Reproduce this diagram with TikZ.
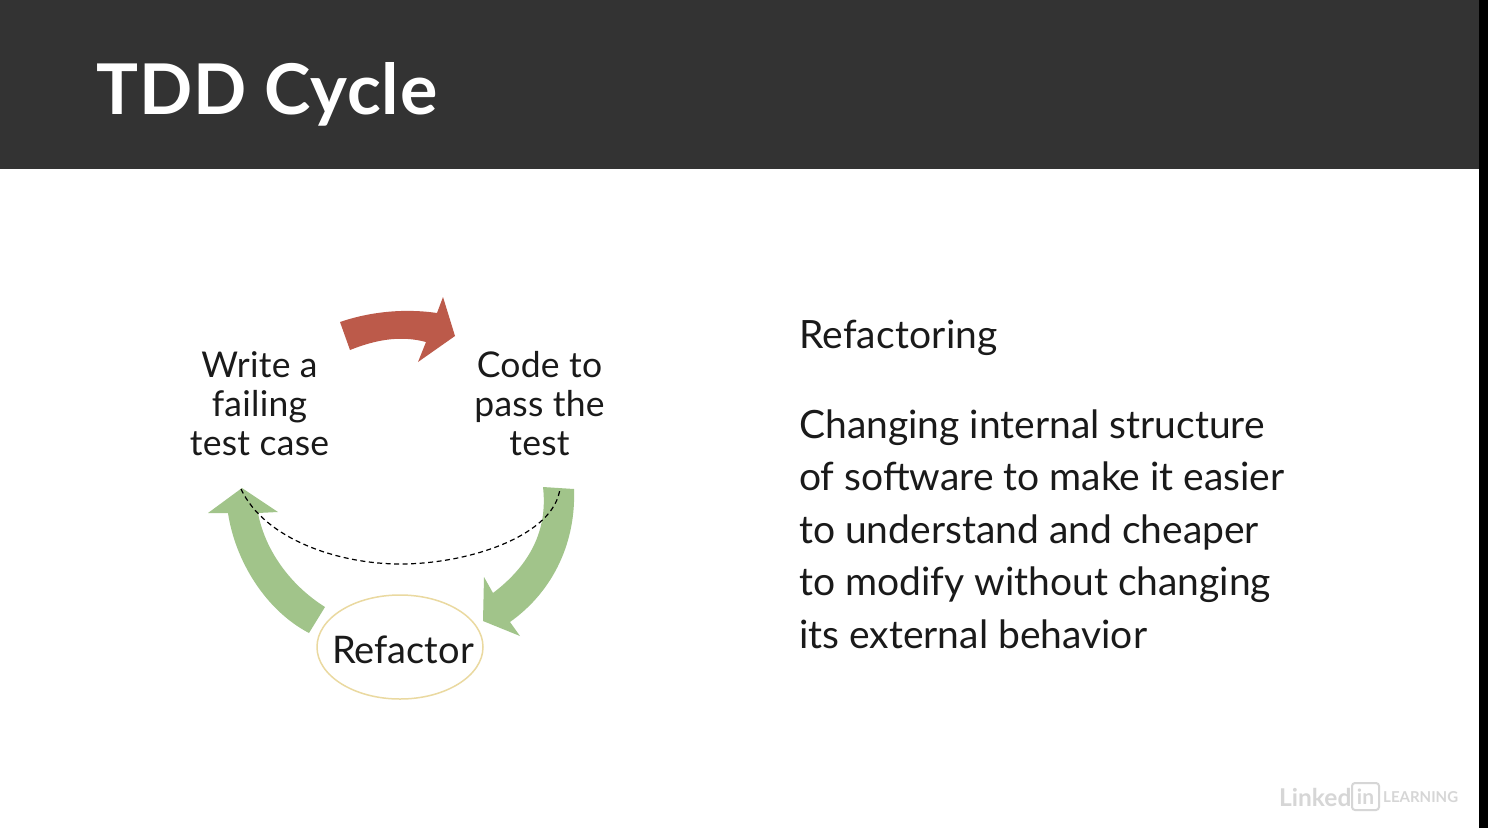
\documentclass[tikz,border=0pt]{standalone}
\usepackage{fontspec}
\usetikzlibrary{shapes.geometric}
\setmainfont{Lato}
\definecolor{hdr}{HTML}{333333}
\definecolor{grn}{HTML}{A1C48A}
\definecolor{redar}{HTML}{BC5A4A}
\definecolor{ring}{HTML}{EAD9A0}
\definecolor{txt}{HTML}{1A1A1A}
\definecolor{logo}{HTML}{D6D6D6}
\tikzset{
  x=1pt,y=-1pt,
  cyc/.style={align=center,text=txt,inner sep=0pt,font=\fontsize{35.5}{39}\selectfont\addfontfeature{LetterSpace=0.8}},
  body/.style={anchor=north west,align=left,text=txt,inner sep=0pt,font=\fontsize{39}{52.5}\selectfont},
}
\begin{document}
\begin{tikzpicture}
\useasboundingbox (0,0) rectangle (1488,828);
\fill[white] (0,0) rectangle (1488,828);
\fill[hdr] (0,0) rectangle (1479,169);
\fill[black] (1479,0) rectangle (1488,828);
\node[anchor=base west,inner sep=0pt,text=white,font=\fontsize{70}{70}\selectfont\bfseries\addfontfeature{LetterSpace=1.3}] (title) at (96,114.5) {TDD Cycle};
% arrows
\fill[redar] (340,322) .. controls (375,310) and (410,309) .. (437,313) -- (443,297) -- (455,336) -- (418,362) -- (426,342) .. controls (400,335) and (375,340) .. (350,350) -- cycle;
\fill[grn] (543,487) -- (574,489) .. controls (576,540) and (555,590) .. (510,622) -- (520,636) -- (483,621) -- (484,577) -- (493,593) .. controls (530,565) and (548,530) .. (543,487) -- cycle;
\fill[grn] (325,607) .. controls (290,585) and (265,550) .. (258,513) -- (278,512) -- (242,488) -- (208,513) -- (228,513) .. controls (235,560) and (265,610) .. (309,633) -- cycle;
% labels
\node[cyc] (write) at (259.5,404) {Write a\\failing\\test case};
\node[cyc] (code) at (539.5,404) {Code to\\pass the\\test};
\node[draw=ring,line width=1.5pt,ellipse,minimum width=166pt,minimum height=104pt,inner sep=0pt,fill=white,
  label={[xshift=3pt,yshift=-2.5pt,text=txt,inner sep=0pt,font=\fontsize{38}{38}\selectfont]center:Refactor}] (refactor) at (400,647) {};
\coordinate (a) at (241,489);
\coordinate (b) at (560,488);
\draw[black,line width=1.2pt,dash pattern=on 5pt off 3.5pt] (a) .. controls (265,540) and (340,564) .. (400,564) .. controls (470,564) and (555,535) .. (b);
% right text
\node[anchor=base west,inner sep=0pt,text=txt,font=\fontsize{39}{39}\selectfont\addfontfeature{LetterSpace=0.5}] (head) at (799,348) {Refactoring};
\node[body] (para) at (799,409.5) {Changing internal structure\\of software to make it easier\\to understand and cheaper\\to modify without changing\\its external behavior};
% logo
\node[anchor=base west,inner sep=0pt,text=logo,font=\fontsize{24.5}{25}\selectfont\bfseries] (lk) at (1279,806) {Linked};
\node[draw=logo,line width=2pt,rounded corners=3pt,minimum width=27pt,minimum height=27pt,inner sep=0pt,text=logo,font=\fontsize{21}{21}\selectfont\bfseries] (inb) at (1365.5,796.5) {in};
\node[anchor=west,inner sep=0pt,text=logo,font=\fontsize{15}{15}\selectfont\bfseries] (lrn) at (1383,797) {LEARNING};
\end{tikzpicture}
\end{document}
